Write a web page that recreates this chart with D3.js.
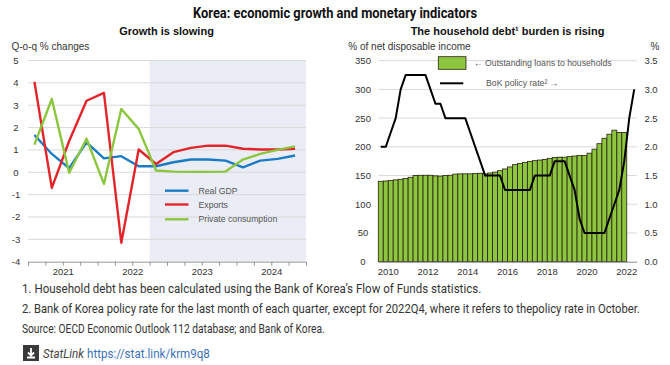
<!DOCTYPE html>
<html><head><meta charset="utf-8">
<script src="https://cdn.jsdelivr.net/npm/d3@7"></script>
<style>body{margin:0;background:#fff}svg{display:block}</style>
</head><body>
<svg id="c" width="670" height="365"></svg>
<script>
// ---------- Data ----------
// Left panel: quarterly, 2021Q1 .. 2024Q4
const quartersL = ["2021Q1","2021Q2","2021Q3","2021Q4","2022Q1","2022Q2","2022Q3","2022Q4",
                   "2023Q1","2023Q2","2023Q3","2023Q4","2024Q1","2024Q2","2024Q3","2024Q4"];
const yearsL = ["2021","2022","2023","2024"];
const realGDP = [1.67,0.82,0.18,1.34,0.62,0.72,0.27,0.27,0.45,0.57,0.57,0.52,0.22,0.52,0.60,0.75];
const exportsS = [4.05,-0.70,1.40,3.20,3.55,-3.15,1.02,0.37,0.90,1.09,1.19,1.19,1.05,1.02,1.02,1.05];
const privCons = [1.24,3.28,-0.02,1.50,-0.52,2.83,1.94,0.08,0.03,0.02,0.02,0.03,0.57,0.82,1.00,1.16];
const projStart = 7; // shading from 2022Q4
const yTicksL = [-4,-3,-2,-1,0,1,2,3,4,5];

// Right panel: quarterly, 2010Q1 .. 2022Q4
const yearsR = ["2010","2012","2014","2016","2018","2020","2022"];
const householdDebt = [140,140.5,141.5,142.5, 143.5,145,147,150, 150.5,150.5,150.5,149.5,
  149,150,150.5,152.5, 153,153,153,153.5, 154,153,154.5,156, 158.5,161.5,165,169,
  171,173,174.7,176, 177,178,180,181.5, 182,182,183,184, 185,185,189,196,
  205.5,215,222,229, 225,225];
const policyRate = [2.00,2.00,2.25,2.50, 3.00,3.25,3.25,3.25, 3.25,3.25,3.00,2.75,
  2.75,2.50,2.50,2.50, 2.50,2.50,2.25,2.00, 1.75,1.50,1.50,1.50, 1.50,1.25,1.25,1.25,
  1.25,1.25,1.25,1.50, 1.50,1.50,1.50,1.75, 1.75,1.75,1.50,1.25, 0.75,0.50,0.50,0.50,
  0.50,0.50,0.75,1.00, 1.25,1.75,2.50,3.00];
const yTicksR = [0,50,100,150,200,250,300,350];
const yTicksR2 = [0,0.5,1,1.5,2,2.5,3,3.5];

const footnotes = [
  "1. Household debt has been calculated using the Bank of Korea\u2019s Flow of Funds statistics.",
  "2. Bank of Korea policy rate for the last month of each quarter, except for 2022Q4, where it refers to thepolicy rate in October.",
  "Source: OECD Economic Outlook 112 database; and Bank of Korea."
];

// ---------- Drawing ----------
const svg = d3.select("#c");
const AX = "Liberation Sans, Arial, sans-serif";
const BLUE = "#1b7cc4", RED = "#e3242b", GREEN = "#8cc63f";

// condensed text helper: draws text and squeezes it horizontally to a target width
function condensed(parent, x, y, width, txt, attrs){
  const g = parent.append("g");
  const t = g.append("text").attr("x",0).attr("y",0).text(txt);
  Object.entries(attrs).forEach(([k,v])=>t.attr(k,v));
  const w = t.node().getComputedTextLength();
  const s = Math.min(1, width / w);
  const anchor = attrs["text-anchor"] || "start";
  g.attr("transform",`translate(${x},${y}) scale(${s},1)`);
  return g;
}

// Title
condensed(svg, 335, 18, 284, "Korea: economic growth and monetary indicators",
  {"text-anchor":"middle","font-family":"Roboto, sans-serif","font-weight":"bold","font-size":15,"fill":"#111"});

// Subtitles
svg.append("text").attr("x",166.5).attr("y",34.5).attr("text-anchor","middle")
  .attr("font-family",AX).attr("font-weight","bold").attr("font-size",11).attr("fill","#111")
  .text("Growth is slowing");
svg.append("text").attr("x",507.5).attr("y",34.5).attr("text-anchor","middle")
  .attr("font-family",AX).attr("font-weight","bold").attr("font-size",11).attr("fill","#111")
  .text("The household debt\u00b9 burden is rising");

// ===== Left panel =====
const xL = d3.scaleLinear().domain([0,16]).range([28,306]);
const yL = d3.scaleLinear().domain([-4,5]).range([261.7,60.5]);
const gL = svg.append("g");

gL.append("rect").attr("x",xL(projStart)).attr("y",yL(5))
  .attr("width",xL(16)-xL(projStart)).attr("height",yL(-4)-yL(5)).attr("fill","#eaedf6");

gL.selectAll("line.grid").data(yTicksL.filter(d=>d>-4)).join("line").attr("class","grid")
  .attr("x1",xL(0)).attr("x2",xL(16)).attr("y1",d=>yL(d)).attr("y2",d=>yL(d))
  .attr("stroke","#d9d9d9").attr("stroke-width",1);

gL.selectAll("text.yl").data(yTicksL).join("text").attr("class","yl")
  .attr("x",16).attr("y",d=>yL(d)+3.5).attr("text-anchor","middle")
  .attr("font-family",AX).attr("font-size",9.5).attr("fill","#333").text(d=>d);

gL.append("text").attr("x",11.5).attr("y",50).attr("font-family",AX).attr("font-size",10)
  .attr("fill","#333").text("Q-o-q % changes");

// x axis: quarter ticks + year labels
const axQ = d3.axisBottom(xL).tickValues(d3.range(0,17)).tickFormat("").tickSize(4).tickSizeOuter(0);
const gxq = gL.append("g").attr("transform",`translate(0,${yL(-4)})`).call(axQ);
gxq.select(".domain").attr("stroke","#999");
gxq.selectAll(".tick line").attr("stroke","#999");
const axY = d3.axisBottom(xL).tickValues(yearsL.map((d,i)=>i*4+2))
  .tickFormat((d,i)=>yearsL[i]).tickSize(0).tickPadding(7);
const gxy = gL.append("g").attr("transform",`translate(0,${yL(-4)})`).call(axY);
gxy.select(".domain").remove();
gxy.selectAll("text").attr("font-family",AX).attr("font-size",9.5).attr("fill","#333");

const lineL = d3.line().x((d,i)=>xL(i+0.37)).y(d=>yL(d));
[[realGDP,BLUE],[exportsS,RED],[privCons,GREEN]].forEach(([s,c])=>{
  gL.append("path").datum(s).attr("d",lineL).attr("fill","none")
    .attr("stroke",c).attr("stroke-width",2.4).attr("stroke-linejoin","round");
});

// legend left
const legL = [["Real GDP",BLUE],["Exports",RED],["Private consumption",GREEN]];
const legYs = [190.7,204.5,219.3];
legL.forEach(([t,c],i)=>{
  gL.append("line").attr("x1",165).attr("x2",188.5).attr("y1",legYs[i]).attr("y2",legYs[i])
    .attr("stroke",c).attr("stroke-width",2.4);
  gL.append("text").attr("x",198.5).attr("y",legYs[i]+3).attr("font-family",AX)
    .attr("font-size",8.7).attr("fill","#555").text(t);
});

// ===== Right panel =====
const xR = d3.scaleBand().domain(d3.range(52)).range([378.3,636.7]).padding(0);
const yR = d3.scaleLinear().domain([0,350]).range([261.7,60.7]);
const yR2 = d3.scaleLinear().domain([0,3.5]).range([261.7,60.7]);
const gR = svg.append("g");

gR.selectAll("line.grid").data(yTicksR.filter(d=>d>0)).join("line").attr("class","grid")
  .attr("x1",378.3).attr("x2",636.7).attr("y1",d=>yR(d)).attr("y2",d=>yR(d))
  .attr("stroke","#d9d9d9").attr("stroke-width",1);

gR.selectAll("text.yl").data(yTicksR).join("text").attr("class","yl")
  .attr("x",363).attr("y",d=>yR(d)+3.5).attr("text-anchor","middle")
  .attr("font-family",AX).attr("font-size",9.5).attr("fill","#333").text(d=>d);
gR.selectAll("text.yr").data(yTicksR2).join("text").attr("class","yr")
  .attr("x",651).attr("y",d=>yR2(d)+3.5).attr("text-anchor","middle")
  .attr("font-family",AX).attr("font-size",9.5).attr("fill","#333").text(d=>d3.format(".1f")(d));
gR.append("text").attr("x",348.3).attr("y",50).attr("font-family",AX).attr("font-size",10)
  .attr("fill","#333").text("% of net disposable income");
gR.append("text").attr("x",655).attr("y",50).attr("text-anchor","middle").attr("font-family",AX)
  .attr("font-size",10).attr("fill","#333").text("%");

gR.selectAll("rect.bar").data(householdDebt).join("rect").attr("class","bar")
  .attr("x",(d,i)=>xR(i)).attr("width",xR.bandwidth()).attr("y",d=>yR(d))
  .attr("height",d=>yR(0)-yR(d)).attr("fill",GREEN).attr("stroke","#2a1f14").attr("stroke-width",0.8);

const gxr = gR.append("g").attr("transform",`translate(0,${yR(0)})`)
  .call(d3.axisBottom(xR).tickValues(yearsR.map((d,i)=>i*8+2)).tickFormat((d,i)=>yearsR[i])
  .tickSize(0).tickPadding(7).tickSizeOuter(0));
gxr.select(".domain").attr("stroke","#888");
gxr.selectAll(".tick").attr("transform",d=>`translate(${xR(d)},0)`);
gxr.selectAll("text").attr("font-family",AX).attr("font-size",9.5).attr("fill","#333");

const lineR = d3.line().x((d,i)=>xR(i)+xR.bandwidth()/2).y(d=>yR2(d));
gR.append("path").datum(policyRate).attr("d",lineR).attr("fill","none")
  .attr("stroke","#000").attr("stroke-width",2).attr("stroke-linejoin","round");

// legend right
gR.append("rect").attr("x",438.3).attr("y",56.7).attr("width",27.7).attr("height",12.6)
  .attr("fill",GREEN).attr("stroke","#2a1f14").attr("stroke-width",0.8);
gR.append("text").attr("x",474).attr("y",66).attr("font-family",AX).attr("font-size",8.7)
  .attr("fill","#555").text("\u2190 Outstanding loans to households");
gR.append("line").attr("x1",440).attr("x2",463.3).attr("y1",83.3).attr("y2",83.3)
  .attr("stroke","#000").attr("stroke-width",2);
gR.append("text").attr("x",486).attr("y",86.3).attr("font-family",AX).attr("font-size",8.7)
  .attr("fill","#555").text("BoK policy rate\u00b2 \u2192");

// ===== Footnotes =====
const FN = "Roboto, sans-serif";
const fnY = [292.5,313,333];
const fnW = [460,618,303];
footnotes.forEach((t,i)=>{
  condensed(svg, 22, fnY[i], fnW[i], t, {"font-family":FN,"font-size":12,"fill":"#333"});
});
// StatLink
const gs = svg.append("g");
gs.append("rect").attr("x",23).attr("y",345).attr("width",16).attr("height",16).attr("fill","#3a3a3a");
gs.append("path").attr("d","M31 348 L31 355 M28 352.5 L31 355.5 L34 352.5 M27 357.5 L35 357.5")
  .attr("stroke","#fff").attr("stroke-width",1.8).attr("fill","none");
condensed(gs, 43, 358, 41, "StatLink", {"font-family":FN,"font-size":12,"font-style":"italic","fill":"#444"});
condensed(gs, 87, 358, 123, "https://stat.link/krm9q8", {"font-family":FN,"font-size":12,"fill":"#3b73b9"});
</script>
</body></html>
